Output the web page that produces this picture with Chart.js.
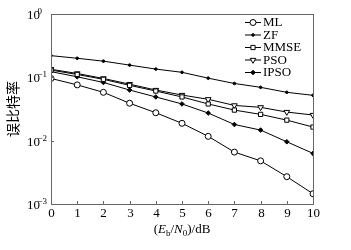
<!DOCTYPE html>
<html>
<head>
<meta charset="utf-8">
<script src="https://cdn.jsdelivr.net/npm/chart.js@4"></script>
<style>
  html, body { margin: 0; padding: 0; background: #fff; }
  #wrap { width: 351px; height: 250px; position: relative; }
</style>
</head>
<body>
<div id="wrap"><canvas id="berChart" width="351" height="250"></canvas></div>
<script>
// SNR points (dB) and BER per detector
const snr = [0, 1, 2, 3, 4, 5, 6, 7, 8, 9, 10];
const berML   = [0.096, 0.076, 0.058, 0.039, 0.0276, 0.0188, 0.0117, 0.0066, 0.0048, 0.0027, 0.00145];
const berZF   = [0.22, 0.20, 0.18, 0.156, 0.135, 0.12, 0.097, 0.080, 0.0695, 0.058, 0.052];
const berMMSE = [0.13, 0.111, 0.093, 0.0747, 0.0608, 0.049, 0.038, 0.0304, 0.026, 0.0211, 0.0164];
const berPSO  = [0.134, 0.115, 0.096, 0.078, 0.063, 0.0525, 0.045, 0.036, 0.0336, 0.0283, 0.0254];
const berIPSO = [0.123, 0.102, 0.083, 0.063, 0.049, 0.038, 0.0273, 0.018, 0.0147, 0.0096, 0.0063];
const seriesNames = ['ML', 'ZF', 'MMSE', 'PSO', 'IPSO'];
const xTicks = [0, 1, 2, 3, 4, 5, 6, 7, 8, 9, 10];
const yExponents = [0, -1, -2, -3];

const serif = '"Liberation Serif", "DejaVu Serif", serif';
const toPoints = arr => arr.map((v, i) => ({ x: snr[i], y: v }));

function makeSet(label, data, style, radius, fill, rotation) {
    return {
        label: label,
        data: toPoints(data),
        borderColor: '#000',
        borderWidth: 1,
        pointStyle: style,
        pointRadius: radius,
        pointRotation: rotation || 0,
        pointBorderWidth: 1,
        pointBorderColor: '#000',
        pointBackgroundColor: fill ? '#000' : '#fff',
        tension: 0
    };
}

// draws the frame, inward ticks, tick labels, titles and legend
const decorations = {
    id: 'decorations',
    afterDraw(chart) {
        const ctx = chart.ctx;
        const area = chart.chartArea;
        const xs = chart.scales.x;
        const ys = chart.scales.y;
        ctx.save();

        // frame
        ctx.strokeStyle = '#666';
        ctx.lineWidth = 1;
        ctx.strokeRect(area.left + 0.5, area.top + 0.5, area.right - area.left, area.bottom - area.top);

        // x ticks + labels
        ctx.fillStyle = '#000';
        ctx.font = '13px ' + serif;
        ctx.textAlign = 'center';
        ctx.textBaseline = 'middle';
        xTicks.forEach(t => {
            const px = Math.round(xs.getPixelForValue(t)) + 0.5;
            ctx.beginPath();
            ctx.moveTo(px, area.bottom);
            ctx.lineTo(px, area.bottom - 3);
            ctx.stroke();
            ctx.fillText(String(t), px, area.bottom + 10);
        });

        // y ticks + labels 10^n
        yExponents.forEach(e => {
            const py = Math.round(ys.getPixelForValue(Math.pow(10, e))) + 0.5;
            ctx.beginPath();
            ctx.moveTo(area.left, py);
            ctx.lineTo(area.left + 3, py);
            ctx.stroke();
            ctx.textAlign = 'left';
            ctx.textBaseline = 'alphabetic';
            ctx.font = '13px ' + serif;
            ctx.fillText('10', 27, py + 4);
            ctx.font = '9px ' + serif;
            ctx.fillText(e === 0 ? '0' : '\u2212' + Math.abs(e), 37.5, py - 1);
        });

        // y title
        ctx.save();
        ctx.translate(13, (area.top + area.bottom) / 2);
        ctx.rotate(-Math.PI / 2);
        ctx.font = '14px "Noto Sans CJK SC", sans-serif';
        ctx.textAlign = 'center';
        ctx.textBaseline = 'middle';
        ctx.fillText('误比特率', 0, 0);
        ctx.restore();

        // x title (E_b/N_0)/dB
        const parts = [
            ['(', '13px ' + serif, 0],
            ['E', 'italic 13px ' + serif, 0],
            ['b', '9px ' + serif, 3],
            ['/', '13px ' + serif, 0],
            ['N', 'italic 13px ' + serif, 0],
            ['0', '9px ' + serif, 3],
            [')/dB', '13px ' + serif, 0]
        ];
        let total = 0;
        parts.forEach(p => { ctx.font = p[1]; total += ctx.measureText(p[0]).width; });
        let cx = (area.left + area.right) / 2 - total / 2;
        ctx.textAlign = 'left';
        ctx.textBaseline = 'alphabetic';
        parts.forEach(p => {
            ctx.font = p[1];
            ctx.fillText(p[0], cx, 233 + p[2]);
            cx += ctx.measureText(p[0]).width;
        });

        // legend
        const lx0 = 245, lx1 = 261, rowTop = 22.5, rowGap = 12.5;
        chart.data.datasets.forEach((ds, i) => {
            const y = rowTop + i * rowGap;
            ctx.strokeStyle = '#000';
            ctx.lineWidth = 1;
            ctx.beginPath();
            ctx.moveTo(lx0, y);
            ctx.lineTo(lx1, y);
            ctx.stroke();
            ctx.fillStyle = ds.pointBackgroundColor;
            Chart.helpers.drawPoint(ctx, {
                pointStyle: ds.pointStyle,
                rotation: ds.pointRotation,
                radius: ds.pointRadius,
                borderWidth: 1
            }, (lx0 + lx1) / 2, y);
            ctx.fillStyle = '#000';
            ctx.font = '13px ' + serif;
            ctx.textAlign = 'left';
            ctx.textBaseline = 'middle';
            ctx.fillText(ds.label, 263, y + 0.5);
        });
        ctx.restore();
    }
};

new Chart(document.getElementById('berChart'), {
    type: 'line',
    data: {
        datasets: [
            makeSet(seriesNames[0], berML, 'circle', 3, false),
            makeSet(seriesNames[1], berZF, 'circle', 1.3, true),
            makeSet(seriesNames[2], berMMSE, 'rect', 3, false),
            makeSet(seriesNames[3], berPSO, 'triangle', 3.3, false, 180),
            makeSet(seriesNames[4], berIPSO, 'rectRot', 2.3, true)
        ]
    },
    options: {
        responsive: false,
        animation: false,
        events: [],
        layout: { padding: { left: 51, right: 38, top: 14, bottom: 46 } },
        plugins: { legend: { display: false }, tooltip: { enabled: false } },
        scales: {
            x: { type: 'linear', min: 0, max: 10, display: false },
            y: { type: 'logarithmic', min: 0.001, max: 1, display: false }
        }
    },
    plugins: [decorations]
});
</script>
</body>
</html>
